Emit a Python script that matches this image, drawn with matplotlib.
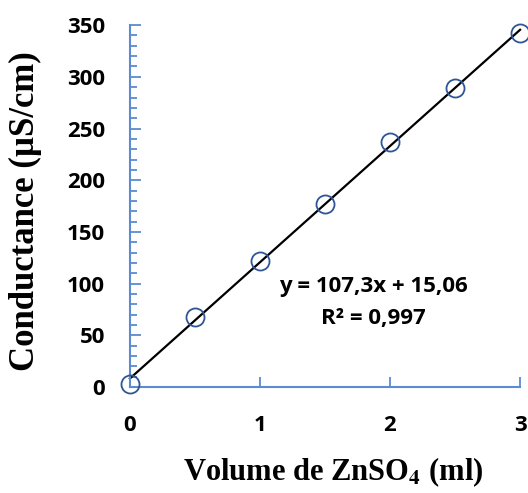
import numpy as np
import matplotlib
matplotlib.use('Agg')
import matplotlib.pyplot as plt
from matplotlib.ticker import MultipleLocator

# data
volume = [0, 0.5, 1, 1.5, 2, 2.5, 3]
conductance = [3, 68, 122, 177, 237, 289, 342]
x_ticks = [0, 1, 2, 3]
y_ticks = [0, 50, 100, 150, 200, 250, 300, 350]
eq_text = 'y = 107,3x + 15,06'
r2_text = 'R² = 0,997'

plt.rcParams['mathtext.fontset'] = 'stix'
spine_col = '#5B8BD0'

fig = plt.figure(figsize=(5.28, 4.93), dpi=100)
ax = fig.add_axes([0.246, 0.215, 0.739, 0.734])

# trend line (least squares fit)
slope, icpt = np.polyfit(volume, conductance, 1)
xs = np.array([volume[0], volume[-1]])
ax.plot(xs, slope * xs + icpt, color='black', lw=1.6, zorder=2, clip_on=False)
ax.plot(volume, conductance, 'o', ms=13, mfc='none', mec='#2F5597', mew=1.3,
        zorder=3, clip_on=False)

ax.set_xlim(0, 3)
ax.set_ylim(0, 350)
ax.set_xticks(x_ticks)
ax.set_yticks(y_ticks)
ax.yaxis.set_minor_locator(MultipleLocator(10))

for s in ['top', 'right']:
    ax.spines[s].set_visible(False)
for s in ['left', 'bottom']:
    ax.spines[s].set_color(spine_col)
    ax.spines[s].set_linewidth(1.5)

ax.tick_params(axis='both', which='both', direction='in', color=spine_col, width=1.3)
ax.tick_params(axis='y', which='major', length=8, pad=18)
ax.tick_params(axis='y', which='minor', length=5)
ax.tick_params(axis='x', which='major', length=7, pad=20)

for lab in ax.get_xticklabels() + ax.get_yticklabels():
    lab.set_fontfamily('Open Sans')
    lab.set_fontweight('bold')
    lab.set_fontsize(16)

ax.set_xlabel(r'Volume de ZnSO$_\mathbf{4}$ (ml)', fontfamily='Liberation Serif',
              fontweight='bold', fontsize=22, labelpad=16)
ax.set_ylabel('Conductance (µS/cm)', fontfamily='Liberation Serif',
              fontweight='bold', fontsize=25, labelpad=12)
ax.xaxis.set_label_coords(0.52, -0.19)
ax.yaxis.set_label_coords(-0.225, 0.485)

ax.text(1.87, 97, eq_text, ha='center', va='center', fontfamily='Open Sans',
        fontweight='bold', fontsize=16)
ax.text(1.87, 66, r2_text, ha='center', va='center', fontfamily='Open Sans',
        fontweight='bold', fontsize=16)

fig.savefig('out.png', dpi=100)
